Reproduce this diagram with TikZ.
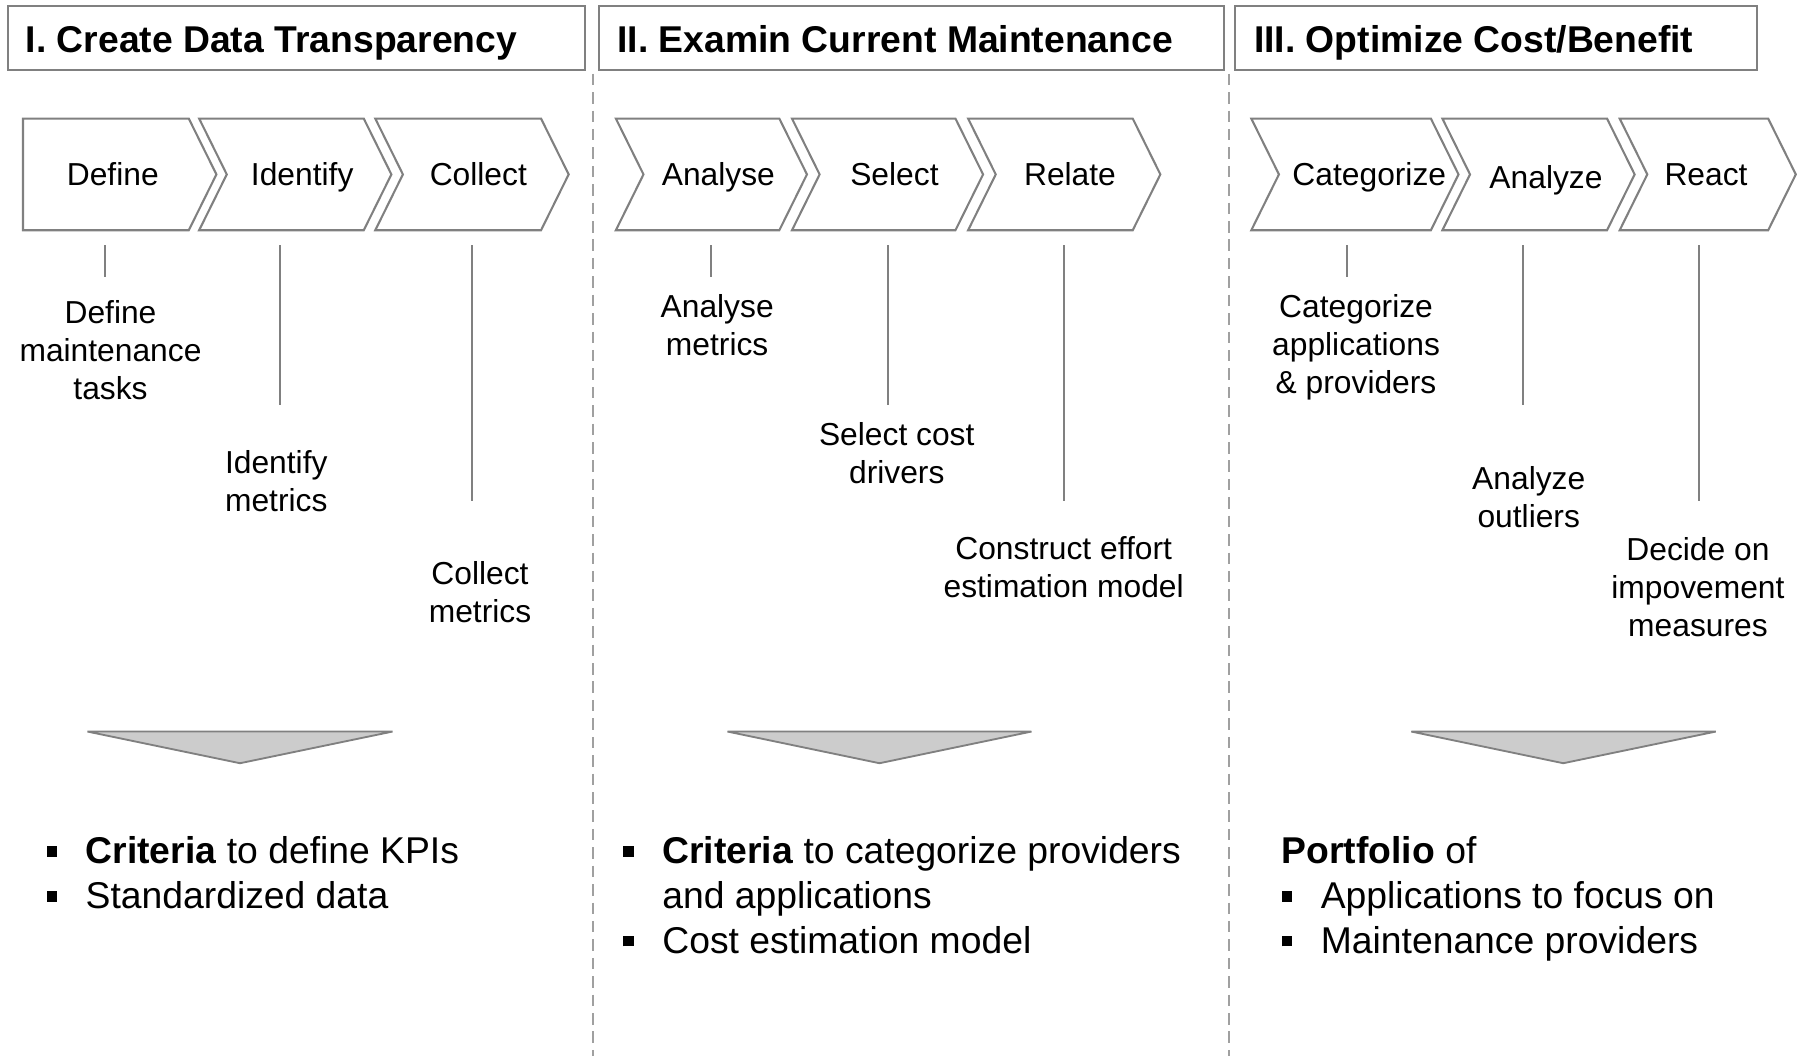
\documentclass[tikz,border=0pt]{standalone}
\usepackage{fontspec}
\setmainfont{Liberation Sans}
\definecolor{edgegray}{HTML}{808080}
\definecolor{sepgray}{HTML}{A0A0A0}
\definecolor{funnelfill}{HTML}{CCCCCC}
\newcommand{\labelstack}[1]{\begin{tabular}[t]{@{}c@{}}#1\end{tabular}}
\newcommand{\sqbullet}{\rule[2.9pt]{4.5pt}{4.5pt}}
\begin{document}
\begin{tikzpicture}[x=0.5pt, y=-0.5pt,
    chev/.style={draw=edgegray, line width=0.9pt, line join=miter},
    hbox/.style={draw=edgegray, line width=0.9pt},
    htext/.style={anchor=base west, inner sep=0pt, font=\fontsize{16.2}{19}\selectfont\bfseries},
    ctext/.style={anchor=base, inner sep=0pt, font=\fontsize{13.8}{16.5}\selectfont},
    lbl/.style={anchor=base, inner sep=0pt, font=\fontsize{13.8}{16.5}\selectfont},
    tick/.style={draw=edgegray, line width=0.9pt},
    sep/.style={draw=sepgray, line width=0.7pt, dash pattern=on 5pt off 3pt},
    funnel/.style={fill=funnelfill, draw=edgegray, line width=0.8pt, line join=bevel},
    result/.style={anchor=base west, inner sep=0pt, font=\fontsize{16.2}{19.5}\selectfont}]
    \useasboundingbox (0,0) rectangle (1568,917);

    % Kopfzeilen
    \draw[hbox] (7,5) rectangle (508,61);
    \draw[hbox] (520,5) rectangle (1063,61);
    \draw[hbox] (1073,5) rectangle (1526,61);
    \node[htext] (head1) at (22,46) {I. Create Data Transparency};
    \node[htext] (head2) at (536,46) {II. Examin Current Maintenance};
    \node[htext] (head3) at (1089,46) {III. Optimize Cost/Benefit};

    % Trennlinien
    \draw[sep] (515,64) coordinate (sep1) -- (515,917);
    \draw[sep] (1067.5,64) coordinate (sep2) -- (1067.5,917);

    % Pfeile, Teil I
    \draw[chev] (20,103) -- (164,103) -- (188,151.5) -- (164,200) -- (20,200) -- cycle;
    \draw[chev] (173,103) -- (316,103) -- (340,151.5) -- (316,200) -- (173,200) -- (197,151.5) -- cycle;
    \draw[chev] (326,103) -- (470,103) -- (494,151.5) -- (470,200) -- (326,200) -- (350,151.5) -- cycle;
    \node[ctext] (define) at (98,161.5) {Define};
    \node[ctext] (identify) at (262.5,161.5) {Identify};
    \node[ctext] (collect) at (415.5,161.5) {Collect};

    % Pfeile, Teil II
    \draw[chev] (535,103) -- (677,103) -- (701,151.5) -- (677,200) -- (535,200) -- (559,151.5) -- cycle;
    \draw[chev] (688,103) -- (830,103) -- (854,151.5) -- (830,200) -- (688,200) -- (712,151.5) -- cycle;
    \draw[chev] (841,103) -- (984,103) -- (1008,151.5) -- (984,200) -- (841,200) -- (865,151.5) -- cycle;
    \node[ctext] (analyse) at (624,161.5) {Analyse};
    \node[ctext] (select) at (777,161.5) {Select};
    \node[ctext] (relate) at (929.5,161.5) {Relate};

    % Pfeile, Teil III
    \draw[chev] (1087,103) -- (1243,103) -- (1267,151.5) -- (1243,200) -- (1087,200) -- (1111,151.5) -- cycle;
    \draw[chev] (1253,103) -- (1396,103) -- (1420,151.5) -- (1396,200) -- (1253,200) -- (1277,151.5) -- cycle;
    \draw[chev] (1407,103) -- (1536,103) -- (1560,151.5) -- (1536,200) -- (1407,200) -- (1431,151.5) -- cycle;
    \node[ctext] (categorize) at (1189.5,161.5) {Categorize};
    \node[ctext] (analyze) at (1343,163.5) {Analyze};
    \node[ctext] (react) at (1482,161.5) {React};

    % Striche
    \draw[tick] (91,213) coordinate (t1) -- ++(0,28);
    \draw[tick] (243,213) coordinate (t2) -- ++(0,139);
    \draw[tick] (410,213) coordinate (t3) -- ++(0,222);
    \draw[tick] (618,213) coordinate (t4) -- ++(0,28);
    \draw[tick] (771,213) coordinate (t5) -- ++(0,139);
    \draw[tick] (924,213) coordinate (t6) -- ++(0,222);
    \draw[tick] (1170,213) coordinate (t7) -- ++(0,28);
    \draw[tick] (1323,213) coordinate (t8) -- ++(0,139);
    \draw[tick] (1476,213) coordinate (t9) -- ++(0,222);

    % Beschriftungen
    \node[lbl] (ldefine) at (96,281) {\labelstack{Define\\maintenance\\tasks}};
    \node[lbl] (lidentify) at (240,411) {\labelstack{Identify\\metrics}};
    \node[lbl] (lcollect) at (417,508) {\labelstack{Collect\\metrics}};
    \node[lbl] (lanalyse) at (623,276) {\labelstack{Analyse\\metrics}};
    \node[lbl] (lselect) at (779,387) {\labelstack{Select cost\\drivers}};
    \node[lbl] (lrelate) at (924,486) {\labelstack{Construct effort\\estimation model}};
    \node[lbl] (lcategorize) at (1178,276) {\labelstack{Categorize\\applications\\\& providers}};
    \node[lbl] (lanalyze) at (1328,425) {\labelstack{Analyze\\outliers}};
    \node[lbl] (lreact) at (1475,486.5) {\labelstack{Decide on\\impovement\\measures}};

    % Trichter
    \draw[funnel] (76,635.5) -- (341,635.5) -- (208.5,663) -- cycle;
    \draw[funnel] (632,635.5) -- (896,635.5) -- (764,663) -- cycle;
    \draw[funnel] (1226,635.5) -- (1490.5,635.5) -- (1358,663) -- cycle;

    % Ergebnisse
    \node[result] (res1) at (40,750) {\begin{tabular}[t]{@{}l@{\hspace{12.5pt}}l@{}}
        \sqbullet & \textbf{Criteria} to define KPIs\\
        \sqbullet & Standardized data\end{tabular}};
    \node[result] (res2) at (541,750) {\begin{tabular}[t]{@{}l@{\hspace{12.5pt}}l@{}}
        \sqbullet & \textbf{Criteria} to categorize providers\\
                  & and applications\\
        \sqbullet & Cost estimation model\end{tabular}};
    \node[result] (res3) at (1113,750) {\begin{tabular}[t]{@{}l@{\hspace{12.5pt}}l@{}}
        \multicolumn{2}{@{}l@{}}{\textbf{Portfolio} of}\\
        \sqbullet & Applications to focus on\\
        \sqbullet & Maintenance providers\end{tabular}};
\end{tikzpicture}
\end{document}
